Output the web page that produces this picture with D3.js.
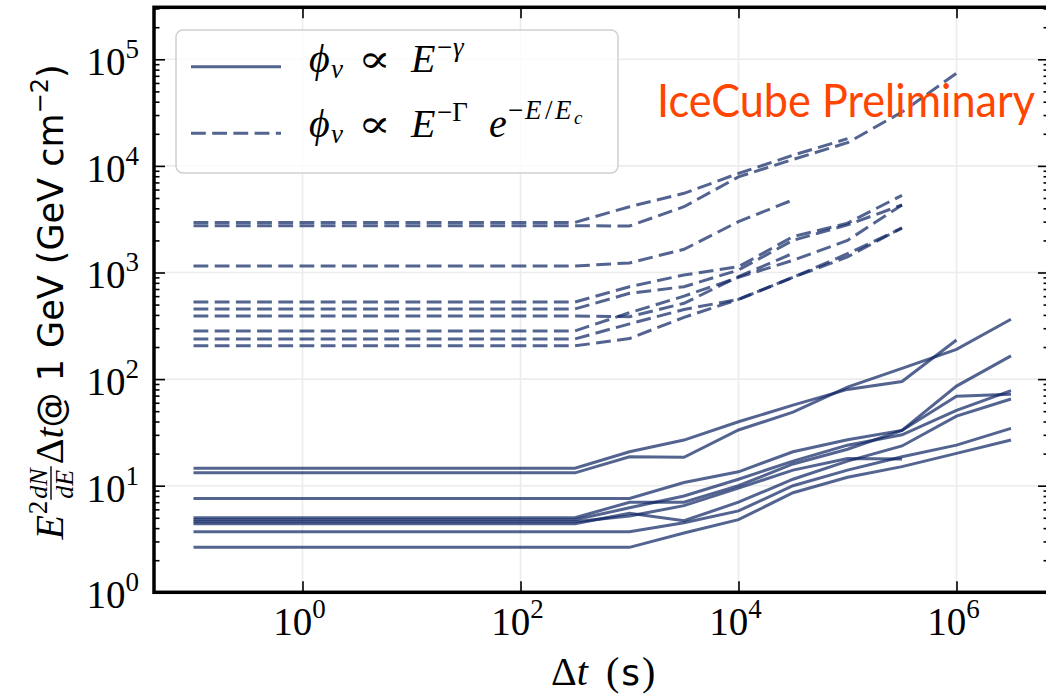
<!DOCTYPE html>
<html>
<head>
<meta charset="utf-8">
<script src="https://cdn.jsdelivr.net/npm/d3@7/dist/d3.min.js"></script>
<style>
  body { margin: 0; background: #fff; }
  svg { display: block; }
</style>
</head>
<body>
<svg width="1046" height="697"></svg>
<script>
// time bins (s)
var times = [0.1, 316, 1000, 3162, 10000, 31623, 100000, 316228, 1000000, 3162278];

// power law fits, E^2 dN/dE dt @ 1 GeV
var powerLaw = [
  [14.6, 14.6, 20.8, 26.8, 39.8, 57, 80, 95, 233],
  [13.2, 13.2, 18.7, 18.5, 33.3, 49, 84, 126, 190, 364],
  [7.6, 7.6, 7.6, 10.7, 13.5, 20.8, 27, 33, 86, 165],
  [5.0, 5.0, 7.0, 7.0, 10, 16, 22, 33, 69, 72],
  [4.8, 4.8, 6.2, 8.0, 11.5, 17, 24, 30, 51, 78],
  [4.6, 4.6, 5.2, 6.5, 9.5, 14, 18, 17.8],
  [4.4, 4.4, 5.5, 4.7, 7.0, 11.5, 17, 23.6, 45, 65],
  [3.7, 3.7, 3.7, 4.5, 5.8, 10, 14, 18.7, 24, 34.5],
  [2.64, 2.64, 2.64, 3.6, 4.8, 8.6, 12, 15.1, 20.1, 26.8]
];

// power law with cutoff
var cutoff = [
  [2950, 2950, 4140, 5530, 8500, 12600, 18000],
  [2750, 2750, 2730, 4140, 7900, 11500, 16500, 32000, 74000],
  [1150, 1150, 1230, 1650, 3000, 4800],
  [528, 528, 736, 948, 1133, 2170, 2900, 5300],
  [455, 455, 638, 736, 1055, 2000, 2800, 4300],
  [391, 391, 385, 514, 913, 1514],
  [283, 283, 420, 600, 900, 1300, 2000, 4300],
  [238, 238, 330, 450, 560, 900, 1400, 2630],
  [205, 205, 240, 380, 560, 900, 1500, 2600]
];

var xTicks = [1, 100, 10000, 1000000];
var xTickExp = ['0', '2', '4', '6'];
var yTicks = [1, 10, 100, 1000, 10000, 100000];
var yTickExp = ['0', '1', '2', '3', '4', '5'];

var svg = d3.select('svg');
var serif = '"Liberation Serif", "DejaVu Serif", serif';
var sans = '"DejaVu Sans", sans-serif';
var lineColor = '#0c2262';

var pLeft = 154, pRight = 1049, pTop = 7.3, pBottom = 592.3;
var x = d3.scaleLog().domain([Math.pow(10, -1.3624), Math.pow(10, 6.8486)]).range([pLeft, pRight]);
var y = d3.scaleLog().domain([1, Math.pow(10, 5.4878)]).range([pBottom, pTop]);

// grid
svg.append('g').selectAll('line').data(xTicks).enter().append('line')
  .attr('x1', d => x(d)).attr('x2', d => x(d))
  .attr('y1', pTop).attr('y2', pBottom)
  .attr('stroke', '#ececec').attr('stroke-width', 1.6);
svg.append('g').selectAll('line').data(yTicks).enter().append('line')
  .attr('x1', pLeft).attr('x2', pRight)
  .attr('y1', d => y(d)).attr('y2', d => y(d))
  .attr('stroke', '#ececec').attr('stroke-width', 1.6);

// series
var line = d3.line()
  .x((d, i) => x(times[i]))
  .y(d => y(d));

svg.append('g').selectAll('path').data(powerLaw).enter().append('path')
  .attr('d', line)
  .attr('fill', 'none')
  .attr('stroke', lineColor)
  .attr('stroke-opacity', 0.7)
  .attr('stroke-width', 3);

svg.append('g').selectAll('path').data(cutoff).enter().append('path')
  .attr('d', line)
  .attr('fill', 'none')
  .attr('stroke', lineColor)
  .attr('stroke-opacity', 0.7)
  .attr('stroke-width', 3)
  .attr('stroke-dasharray', '14.8,6.4');

// ticks
function styleTicks(g) {
  g.select('.domain').remove();
  g.selectAll('line').attr('stroke', '#000').attr('stroke-width', 1.6);
}
var yMinor = y.ticks().filter(d => yTicks.indexOf(d) < 0);

svg.append('g').attr('transform', 'translate(0,' + pBottom + ')')
  .call(d3.axisBottom(x).tickValues(xTicks).tickSize(-11).tickFormat(''))
  .call(styleTicks);
svg.append('g').attr('transform', 'translate(0,' + pTop + ')')
  .call(d3.axisTop(x).tickValues(xTicks).tickSize(-11).tickFormat(''))
  .call(styleTicks);
svg.append('g').attr('transform', 'translate(' + pLeft + ',0)')
  .call(d3.axisLeft(y).tickValues(yTicks).tickSize(-11).tickFormat(''))
  .call(styleTicks);
svg.append('g').attr('transform', 'translate(' + pLeft + ',0)')
  .call(d3.axisLeft(y).tickValues(yMinor).tickSize(-5.5).tickFormat(''))
  .call(styleTicks);
svg.append('g').attr('transform', 'translate(' + pRight + ',0)')
  .call(d3.axisRight(y).tickValues(yTicks).tickSize(-11).tickFormat(''))
  .call(styleTicks);
svg.append('g').attr('transform', 'translate(' + pRight + ',0)')
  .call(d3.axisRight(y).tickValues(yMinor).tickSize(-5.5).tickFormat(''))
  .call(styleTicks);

// spines
svg.append('rect')
  .attr('x', pLeft).attr('y', pTop)
  .attr('width', pRight - pLeft).attr('height', pBottom - pTop)
  .attr('fill', 'none').attr('stroke', '#000').attr('stroke-width', 3.5);

// tick labels
var xl = svg.append('g').selectAll('text').data(xTicks).enter().append('text')
  .attr('x', d => x(d) - 3).attr('y', pBottom + 43)
  .attr('text-anchor', 'middle')
  .attr('font-family', serif).attr('font-size', 39);
xl.append('tspan').text('10');
xl.append('tspan').attr('font-size', 27).attr('dy', -17).text((d, i) => xTickExp[i]);

var yl = svg.append('g').selectAll('text').data(yTicks).enter().append('text')
  .attr('x', 139).attr('y', d => y(d) + 16)
  .attr('text-anchor', 'end')
  .attr('font-family', serif).attr('font-size', 39);
yl.append('tspan').text('10');
yl.append('tspan').attr('font-size', 27).attr('dy', -17).text((d, i) => yTickExp[i]);

// x label
var xlab = svg.append('text')
  .attr('x', 551).attr('y', 685)
  .attr('font-family', serif).attr('font-size', 40);
xlab.append('tspan').text('Δ');
xlab.append('tspan').attr('font-style', 'italic').text('t');
var xlab2 = svg.append('text')
  .attr('x', 606).attr('y', 685)
  .attr('font-family', serif).attr('font-size', 40);
xlab2.append('tspan').text('(');
xlab2.append('tspan').attr('font-family', sans).attr('font-size', 36).attr('dx', 2).text('s');
xlab2.append('tspan').attr('dx', 2).text(')');

// y label (rotated)
var ylab = svg.append('g');
var yInner = ylab.append('g');
var cx = 0;
function piece(txt, opts) {
  var t = yInner.append('text')
    .attr('x', cx).attr('y', opts.dy || 0)
    .attr('font-family', opts.sans ? sans : serif)
    .attr('font-size', opts.size || 40)
    .attr('font-style', opts.italic ? 'italic' : 'normal')
    .text(txt);
  var w = t.node().getComputedTextLength();
  if (!opts.stay) cx += w + (opts.gap || 0);
  return w;
}
piece('E', { italic: true, gap: 1 });
piece('2', { size: 27, dy: -16, gap: 2 });
var fx = cx;
var wn = piece('dN', { italic: true, size: 26, dy: -16, stay: true });
yInner.append('text').attr('x', fx).attr('y', 10)
  .attr('font-family', serif).attr('font-size', 26).attr('font-style', 'italic').text('dE');
yInner.append('line').attr('x1', fx - 1).attr('x2', fx + wn + 2)
  .attr('y1', -12).attr('y2', -12).attr('stroke', '#000').attr('stroke-width', 1.4);
cx += wn + 4;
piece('Δ', {});
piece('t', { italic: true });
piece('@ 1 GeV (GeV cm', { sans: true, size: 35 });
piece('−2', { size: 24, dy: -15, sans: true });
piece(')', { sans: true, size: 35 });
var labW = cx;
ylab.attr('transform', 'translate(63,302) rotate(-90)');
yInner.attr('transform', 'translate(' + (-labW / 2) + ',0)');

// legend
svg.append('rect')
  .attr('x', 176).attr('y', 30).attr('width', 442).attr('height', 143)
  .attr('rx', 7)
  .attr('fill', '#fff').attr('fill-opacity', 0.8)
  .attr('stroke', '#d0d0d0').attr('stroke-width', 1.5);

var legendRows = [
  { y: 66.7, dash: null },
  { y: 133.3, dash: '14.8,6.4' }
];
svg.append('g').selectAll('line').data(legendRows).enter().append('line')
  .attr('x1', 191).attr('x2', 281)
  .attr('y1', d => d.y).attr('y2', d => d.y)
  .attr('stroke', lineColor).attr('stroke-opacity', 0.7)
  .attr('stroke-width', 3)
  .attr('stroke-dasharray', d => d.dash);

// legend labels, one glyph group at a time
function glyph(row, txt, gx, dy, size, italic, len) {
  var t = svg.append('text')
    .attr('x', gx).attr('y', row + dy)
    .attr('font-family', serif).attr('font-size', size)
    .attr('font-style', italic ? 'italic' : 'normal')
    .text(txt);
  if (len) t.attr('textLength', len).attr('lengthAdjust', 'spacingAndGlyphs');
}
[72, 137].forEach(function (r) {
  glyph(r, 'ϕ', 309, 0, 40, true);
  glyph(r, 'ν', 331, 6, 27, true);
  glyph(r, '∝', 358, 0, 38, false, 33);
  glyph(r, 'E', 411, 0, 40, true);
});
glyph(72, '−', 437, -16, 27, false);
glyph(72, 'γ', 453, -16, 27, true);
glyph(137, '−Γ', 437, -16, 27, false);
glyph(137, 'e', 489, 0, 40, true);
glyph(137, '−', 508, -18, 27, false);
glyph(137, 'E', 525, -18, 27, true);
glyph(137, '/', 545, -18, 27, false);
glyph(137, 'E', 555, -18, 27, true);
glyph(137, 'c', 574, -13, 19, true);

// watermark
svg.append('text')
  .attr('x', 657).attr('y', 117)
  .attr('font-family', 'Lato, sans-serif').attr('font-size', 46)
  .attr('fill', '#ff4500')
  .attr('textLength', 378).attr('lengthAdjust', 'spacingAndGlyphs')
  .text('IceCube Preliminary');
</script>
</body>
</html>
